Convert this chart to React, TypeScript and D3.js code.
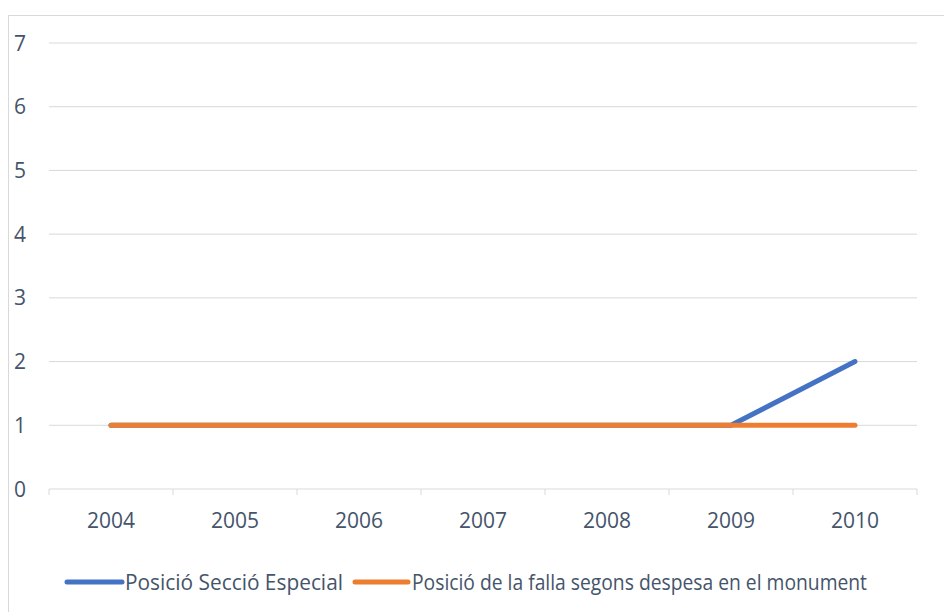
import React from 'react';
import * as d3 from 'd3';

const years = ['2004', '2005', '2006', '2007', '2008', '2009', '2010'];
const seccioEspecial = [1, 1, 1, 1, 1, 1, 2];
const despesaMonument = [1, 1, 1, 1, 1, 1, 1];
const yTicks = [0, 1, 2, 3, 4, 5, 6, 7];
const seriesNames = ['Posició Secció Especial', 'Posició de la falla segons despesa en el monument'];
const seriesColors = ['#4472C4', '#ED7D31'];

const W = 944;
const H = 612;
const plot = { left: 49, right: 917, top: 43, bottom: 489 };
const textColor = '#44546A';
const font = '"Open Sans", sans-serif';
const fontSize = 21;

const App = () => {
    const x = d3.scaleBand().domain(years).range([plot.left, plot.right]);
    const y = d3.scaleLinear().domain([0, 7]).range([plot.bottom, plot.top]);
    const cx = (d: string) => (x(d) as number) + x.bandwidth() / 2;

    const line = d3.line<number>()
        .x((_, i) => cx(years[i]))
        .y(v => y(v));

    const series = [seccioEspecial, despesaMonument];
    const boundaries = years.map(d => x(d) as number).concat([plot.right]);

    // legend layout: swatch then label, one after the other
    const legend = [
        { x0: 67, x1: 122, tx: 125, len: 218 },
        { x0: 355, x1: 408, tx: 412, len: 455 },
    ];

    return (
        <svg width={W} height={H} style={{ display: 'block', position: 'absolute', left: 0, top: 0 }}>
            <rect x={0} y={0} width={W} height={H} fill="#fff" />
            <rect x={8.5} y={15.5} width={W + 10} height={H + 10} fill="none" stroke="#D9D9D9" />

            {yTicks.filter(t => t > 0).map(t => (
                <line key={t} x1={plot.left} x2={plot.right} y1={y(t)} y2={y(t)} stroke="#D9D9D9" strokeWidth={1} />
            ))}
            <line x1={plot.left} x2={plot.right} y1={y(0)} y2={y(0)} stroke="#D9D9D9" strokeWidth={1} />
            {boundaries.map((b, i) => (
                <line key={i} x1={b} x2={b} y1={y(0)} y2={y(0) + 6} stroke="#D9D9D9" strokeWidth={1} />
            ))}

            {yTicks.map(t => (
                <text key={t} x={26} y={y(t)} dy="0.36em" textAnchor="end" fill={textColor}
                    fontFamily={font} fontSize={fontSize}>{t}</text>
            ))}
            {years.map(d => (
                <text key={d} x={cx(d)} y={520} dy="0.36em" textAnchor="middle" fill={textColor}
                    fontFamily={font} fontSize={fontSize}>{d}</text>
            ))}

            {series.map((s, i) => (
                <path key={i} d={line(s) || ''} fill="none" stroke={seriesColors[i]} strokeWidth={5}
                    strokeLinecap="round" strokeLinejoin="round" />
            ))}

            {legend.map((l, i) => (
                <g key={i}>
                    <line x1={l.x0} x2={l.x1} y1={582} y2={582} stroke={seriesColors[i]} strokeWidth={5} strokeLinecap="round" />
                    <text x={l.tx} y={582} dy="0.36em" fill={textColor} fontFamily={font} fontSize={fontSize}
                        textLength={l.len} lengthAdjust="spacingAndGlyphs">{seriesNames[i]}</text>
                </g>
            ))}
        </svg>
    );
};

export default App;
